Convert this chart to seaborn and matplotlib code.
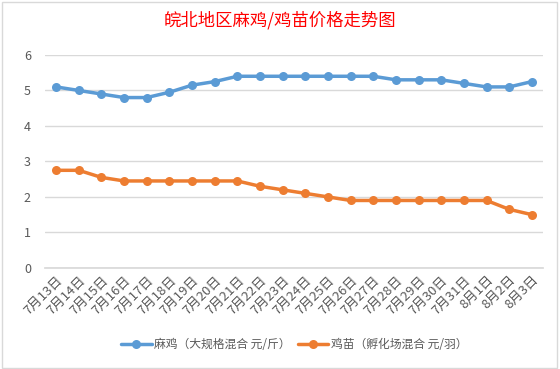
import numpy as np
import pandas as pd
import seaborn as sns
import matplotlib.pyplot as plt
from matplotlib.patches import Rectangle

# Data
dates = ["7月13日", "7月14日", "7月15日", "7月16日", "7月17日", "7月18日", "7月19日",
         "7月20日", "7月21日", "7月22日", "7月23日", "7月24日", "7月25日", "7月26日",
         "7月27日", "7月28日", "7月29日", "7月30日", "7月31日", "8月1日", "8月2日", "8月3日"]
mj_price = [5.1, 5.0, 4.9, 4.8, 4.8, 4.95, 5.15, 5.25, 5.4, 5.4, 5.4, 5.4, 5.4, 5.4,
            5.4, 5.3, 5.3, 5.3, 5.2, 5.1, 5.1, 5.25]
jm_price = [2.75, 2.75, 2.55, 2.45, 2.45, 2.45, 2.45, 2.45, 2.45, 2.3, 2.2, 2.1, 2.0, 1.9,
            1.9, 1.9, 1.9, 1.9, 1.9, 1.9, 1.65, 1.5]
labels = ["麻鸡（大规格混合 元/斤）", "鸡苗（孵化场混合 元/羽）"]
colors = ["#5B9BD5", "#ED7D31"]

sns.set_theme(style="white")
plt.rcParams['font.family'] = ['Noto Sans CJK SC', 'DejaVu Sans']

df = pd.DataFrame({
    "date": dates * 2,
    "idx": list(range(len(dates))) * 2,
    "price": mj_price + jm_price,
    "series": [labels[0]] * len(dates) + [labels[1]] * len(dates),
})

fig = plt.figure(figsize=(5.6, 3.69), dpi=100)
ax = fig.add_axes([0.080, 0.274, 0.890, 0.577])

sns.lineplot(data=df, x="idx", y="price", hue="series", palette=colors,
             marker="o", markersize=6.5, markeredgewidth=0, linewidth=2.5, ax=ax)

ax.set_ylim(0, 6)
ax.set_yticks(range(0, 7))
ax.set_xlim(-0.5, len(dates) - 0.5)
ax.set_xticks(range(len(dates)))
ax.set_xticklabels(dates, rotation=45, ha="right", rotation_mode="anchor",
                   fontsize=9.5, color="#595959")
ax.tick_params(axis="x", length=0, pad=4)
ax.tick_params(axis="y", labelsize=9, labelcolor="#595959", length=0, pad=10)
# minor ticks between categories like Excel
ax.set_xticks(np.arange(-0.5, len(dates), 1), minor=True)
ax.tick_params(axis="x", which="minor", length=4, color="#D9D9D9", direction="out")
ax.grid(axis="y", color="#D9D9D9", linewidth=1)
ax.set_axisbelow(True)
for s in ["top", "right", "left"]:
    ax.spines[s].set_visible(False)
ax.spines["bottom"].set_color("#D9D9D9")
ax.set_xlabel("")
ax.set_ylabel("")

ax.legend(loc="center", bbox_to_anchor=(0.5, -0.36), ncol=2, frameon=False,
          fontsize=8.5, handlelength=2.6, columnspacing=0.6, handletextpad=0.2,
          labelcolor="#595959")

fig.text(0.5, 0.945, "皖北地区麻鸡/鸡苗价格走势图", ha="center", va="center",
         fontsize=12.5, color="#FF0000")

fig.patches.append(Rectangle((0.004, 0.004), 0.99, 0.99, transform=fig.transFigure,
                             fill=False, edgecolor="#D9D9D9", linewidth=1))

fig.savefig("out.png", dpi=100)
